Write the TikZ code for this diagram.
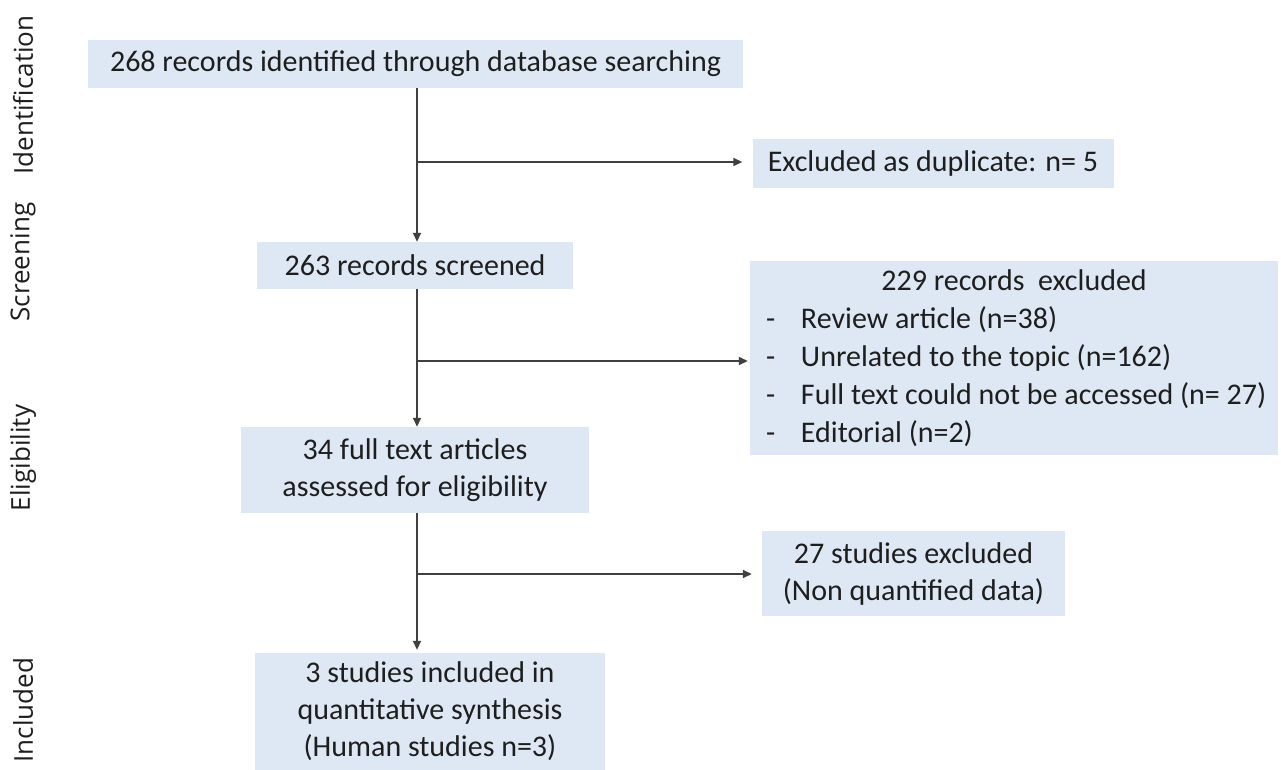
\documentclass[tikz,border=0pt]{standalone}
\usepackage{fontspec}
\setmainfont{Carlito}
\newfontfamily\sidefont{Open Sans}
\usetikzlibrary{arrows.meta}
\definecolor{boxfill}{HTML}{DEE8F4}
\definecolor{linecol}{HTML}{404040}
\definecolor{txtcol}{HTML}{1E1E1E}
\begin{document}
\begin{tikzpicture}[x=1pt,y=-1pt,
  flowbox/.style={fill=boxfill, draw=none, inner sep=0pt, align=center,
    font=\fontsize{30}{37}\selectfont, text=txtcol},
  sidelabel/.style={rotate=90, font=\sidefont\fontsize{26}{30}\selectfont, text=txtcol, inner sep=0pt},
  conn/.style={draw=linecol, line width=1.5pt, -{Triangle[length=9pt,width=8pt]}}
]
\useasboundingbox (0,0) rectangle (1281,770);
\fill[white] (0,0) rectangle (1281,770);

% side labels
\node[sidelabel] (lid) at (23,95) {Identification};
\node[sidelabel] (lsc) at (23,262) {Screening};
\node[sidelabel] (lel) at (23,458) {Eligibility};
\node[sidelabel] (lin) at (23,710) {Included};

% boxes
\node[flowbox, minimum width=655pt, minimum height=48pt] (b1) at (415.5,64) {268 records identified through database searching};
\node[flowbox, minimum width=361pt, minimum height=49pt] (dup) at (933,163.5) {Excluded as duplicate: n= 5};
\node[flowbox, minimum width=316pt, minimum height=47pt] (b2) at (415,265.5) {263 records screened};
\node[flowbox, minimum width=528pt, minimum height=194pt, text width=496pt, inner xsep=16pt, align=flush left, font=\fontsize{30}{38}\selectfont] (ex2) at (1014,358)
  {\makebox[\linewidth]{229 records\ \ excluded}\\
   \makebox[35pt][l]{-}Review article (n=38)\\
   \makebox[35pt][l]{-}Unrelated to the topic (n=162)\\
   \makebox[35pt][l]{-}\makebox[0pt][l]{Full text could not be accessed (n= 27)}\\
   \makebox[35pt][l]{-}Editorial (n=2)};
\node[flowbox, minimum width=348pt, minimum height=86pt] (b3) at (415,470) {34 full text articles\\assessed for eligibility};
\node[flowbox, minimum width=303pt, minimum height=85pt] (ex3) at (913.5,573.5) {27 studies excluded\\(Non quantified data)};
\node[flowbox, minimum width=350pt, minimum height=117pt] (b5) at (430,711.5) {3 studies included in\\quantitative synthesis\\(Human studies n=3)};

% trunk
\coordinate (trunk) at (417,0);
\coordinate (j1) at (417,162);
\coordinate (j2) at (417,361);
\coordinate (j3) at (417,574);

\draw[conn] (b1.south -| trunk) -- (b2.north -| trunk);
\draw[conn] (b2.south -| trunk) -- (b3.north -| trunk);
\draw[conn, shorten >=3pt] (b3.south -| trunk) -- (b5.north -| trunk);

\draw[conn, shorten >=10pt] (j1) -- (j1 -| dup.west);
\draw[conn, shorten >=2pt] (j2) -- (j2 -| ex2.west);
\draw[conn, shorten >=10pt] (j3) -- (j3 -| ex3.west);
\end{tikzpicture}
\end{document}
